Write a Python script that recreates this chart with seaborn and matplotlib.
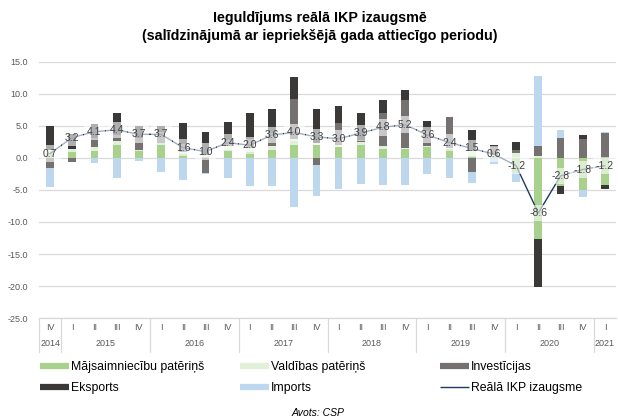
import numpy as np
import pandas as pd
import matplotlib
matplotlib.use("Agg")
import matplotlib.pyplot as plt
import matplotlib.transforms as mtransforms
from matplotlib.lines import Line2D
import seaborn as sns

# ---------------- data ----------------
quarters = ["IV",
            "I", "II", "III", "IV",
            "I", "II", "III", "IV",
            "I", "II", "III", "IV",
            "I", "II", "III", "IV",
            "I", "II", "III", "IV",
            "I", "II", "III", "IV",
            "I"]
years = ["2014", "2015", "2016", "2017", "2018", "2019", "2020", "2021"]
year_counts = [1, 4, 4, 4, 4, 4, 4, 1]

household = [0.8, 1.0, 1.05, 2.1, 1.05, 2.1, 0.6, 0.2, 1.3, 0.9, 1.3, 2.1, 2.1,
             1.7, 2.1, 1.45, 1.4, 1.65, 1.4, 0.35, 0.3, -2.3, -12.6, -4.4, -5.05, -4.15]
government = [0.4, 0.4, 0.7, 0.5, 0.25, 0.3, 0.3, 0.2, 0.5, 0.7, 0.6, 0.8, 0.25,
              0.35, 0.35, 0.35, 0.15, 0.25, 0.15, 0.7, 0.2, 0.8, 0.35, 0.0, 0.0, 0.0]
investment = [-1.6, -0.7, 1.3, 1.0, 1.8, 1.6, 1.3, -2.35, 1.0, 1.3, 2.0, 6.25, -1.05,
              3.4, 0.4, 5.3, 7.55, 2.3, 4.9, -2.2, 1.2, 0.5, 1.55, 3.1, 3.0, 3.9]
exports = [3.8, 2.3, 2.3, 3.45, 1.9, 0.95, 3.3, 3.7, 2.9, 4.1, 3.75, 3.55, 5.3,
           2.6, 4.25, 2.0, 1.45, 1.55, 0.0, 3.35, 0.4, 1.2, -7.6, -1.3, 0.65, -0.65]
imports = [-2.9, 0.0, -0.8, -3.1, -0.4, -2.2, -3.4, -0.2, -3.2, -4.3, -4.3, -7.6, -4.95,
           -4.8, -4.05, -4.15, -4.15, -2.45, -3.2, -1.75, -0.9, -1.5, 10.9, 1.2, -1.05, 0.15]
gdp = [0.7, 3.2, 4.1, 4.4, 3.7, 3.7, 1.6, 1.0, 2.4, 2.0, 3.6, 4.0, 3.3,
       3.0, 3.9, 4.8, 5.2, 3.6, 2.4, 1.5, 0.6, -1.2, -8.6, -2.8, -1.8, -1.2]

series_names = ["Mājsaimniecību patēriņš", "Valdības patēriņš", "Investīcijas",
                "Eksports", "Imports"]
line_name = "Reālā IKP izaugsme"

# ---------------- style ----------------
colors = ["#A9D18E", "#E2F0D9", "#767171", "#3B3838", "#BDD7EE"]
line_color = "#203864"

sns.set_theme(style="white")
plt.rcParams["font.family"] = ["Liberation Sans", "DejaVu Sans"]

W, H = 618, 420
fig = plt.figure(figsize=(W / 100, H / 100), dpi=100)
ax = fig.add_axes([39 / W, 1 - 318 / H, (616 - 39) / W, (318 - 62) / H])

n = len(gdp)
x = np.arange(n)
vals = np.array([household, government, investment, exports, imports])
pos_cum = np.clip(vals, 0, None).cumsum(axis=0)
neg_cum = np.clip(vals, None, 0).cumsum(axis=0)

# stacked bars drawn as overlapping cumulative bars (top layer first)
for k in reversed(range(vals.shape[0])):
    hp = np.where(vals[k] > 0, pos_cum[k], 0.0)
    hn = np.where(vals[k] < 0, neg_cum[k], 0.0)
    for h in (hp, hn):
        df = pd.DataFrame({"q": x, "v": h})
        sns.barplot(data=df, x="q", y="v", color=colors[k], saturation=1,
                    width=0.35, errorbar=None, linewidth=0, edgecolor="none",
                    ax=ax, zorder=2)

sns.lineplot(x=x, y=gdp, color=line_color, linewidth=1.0, ax=ax, zorder=5)
for xi, v in zip(x, gdp):
    ax.text(xi, v, f"{v:.1f}", ha="center", va="center", fontsize=7.5,
            color="#404040", zorder=6,
            bbox=dict(boxstyle="square,pad=0.32", fc="white", ec="none", alpha=0.6))

ax.set_xlim(-0.5, n - 0.5)
ax.set_ylim(-25, 15)
yt = np.arange(-25, 16, 5)
ax.set_yticks(yt)
ax.set_yticklabels([f"{v:.1f}" for v in yt])
ax.set_xticks([])
ax.set_xlabel("")
ax.set_ylabel("")
ax.yaxis.grid(True, color="#D9D9D9", linewidth=0.9)
ax.set_axisbelow(True)
for s in ["top", "right", "left"]:
    ax.spines[s].set_visible(False)
ax.spines["bottom"].set_color("#D9D9D9")
ax.spines["bottom"].set_linewidth(0.9)
ax.tick_params(axis="y", length=0, labelsize=6.5, labelcolor="#595959", pad=8)

# multi-level category axis
tr = mtransforms.blended_transform_factory(ax.transData, fig.transFigure)
for xi, q in zip(x, quarters):
    ax.text(xi, 1 - 327 / H, q, transform=tr, ha="center", va="center",
            fontsize=6.5, color="#595959")
start = 0
bounds = [-0.5]
for yname, cnt in zip(years, year_counts):
    center = start + (cnt - 1) / 2
    ax.text(center, 1 - 344 / H, yname, transform=tr, ha="center", va="center",
            fontsize=6.5, color="#595959")
    start += cnt
    bounds.append(start - 0.5)
for b in bounds[:-1]:
    ax.add_line(Line2D([b, b], [1 - 318 / H, 1 - 352 / H], transform=tr,
                       color="#D9D9D9", linewidth=0.9, clip_on=False))

# titles
fig.text(0.518, 1 - 18 / H, "Ieguldījums reālā IKP izaugsmē", ha="center",
         va="center", fontsize=10.3, fontweight="bold", color="black")
fig.text(0.518, 1 - 36 / H, "(salīdzinājumā ar iepriekšējā gada attiecīgo periodu)",
         ha="center", va="center", fontsize=10.3, fontweight="bold", color="black")

# legend in three columns
handles = [Line2D([], [], color=c, linewidth=4.5, solid_capstyle="butt") for c in colors]
handles.append(Line2D([], [], color=line_color, linewidth=1.0, solid_capstyle="butt"))
labels = series_names + [line_name]
col_x = [34, 234, 434]
for ci in range(3):
    fig.legend([handles[ci], handles[ci + 3]], [labels[ci], labels[ci + 3]],
               loc="upper left", bbox_to_anchor=(col_x[ci] / W, 1 - 355 / H),
               frameon=False, fontsize=8.8, handlelength=2.4, handletextpad=0.15,
               labelspacing=0.75, borderpad=0, labelcolor="black")

fig.text(0.515, 1 - 413 / H, "Avots: CSP", ha="center", va="center",
         fontsize=7.5, style="italic", color="black")

fig.savefig("out.png", dpi=100)
